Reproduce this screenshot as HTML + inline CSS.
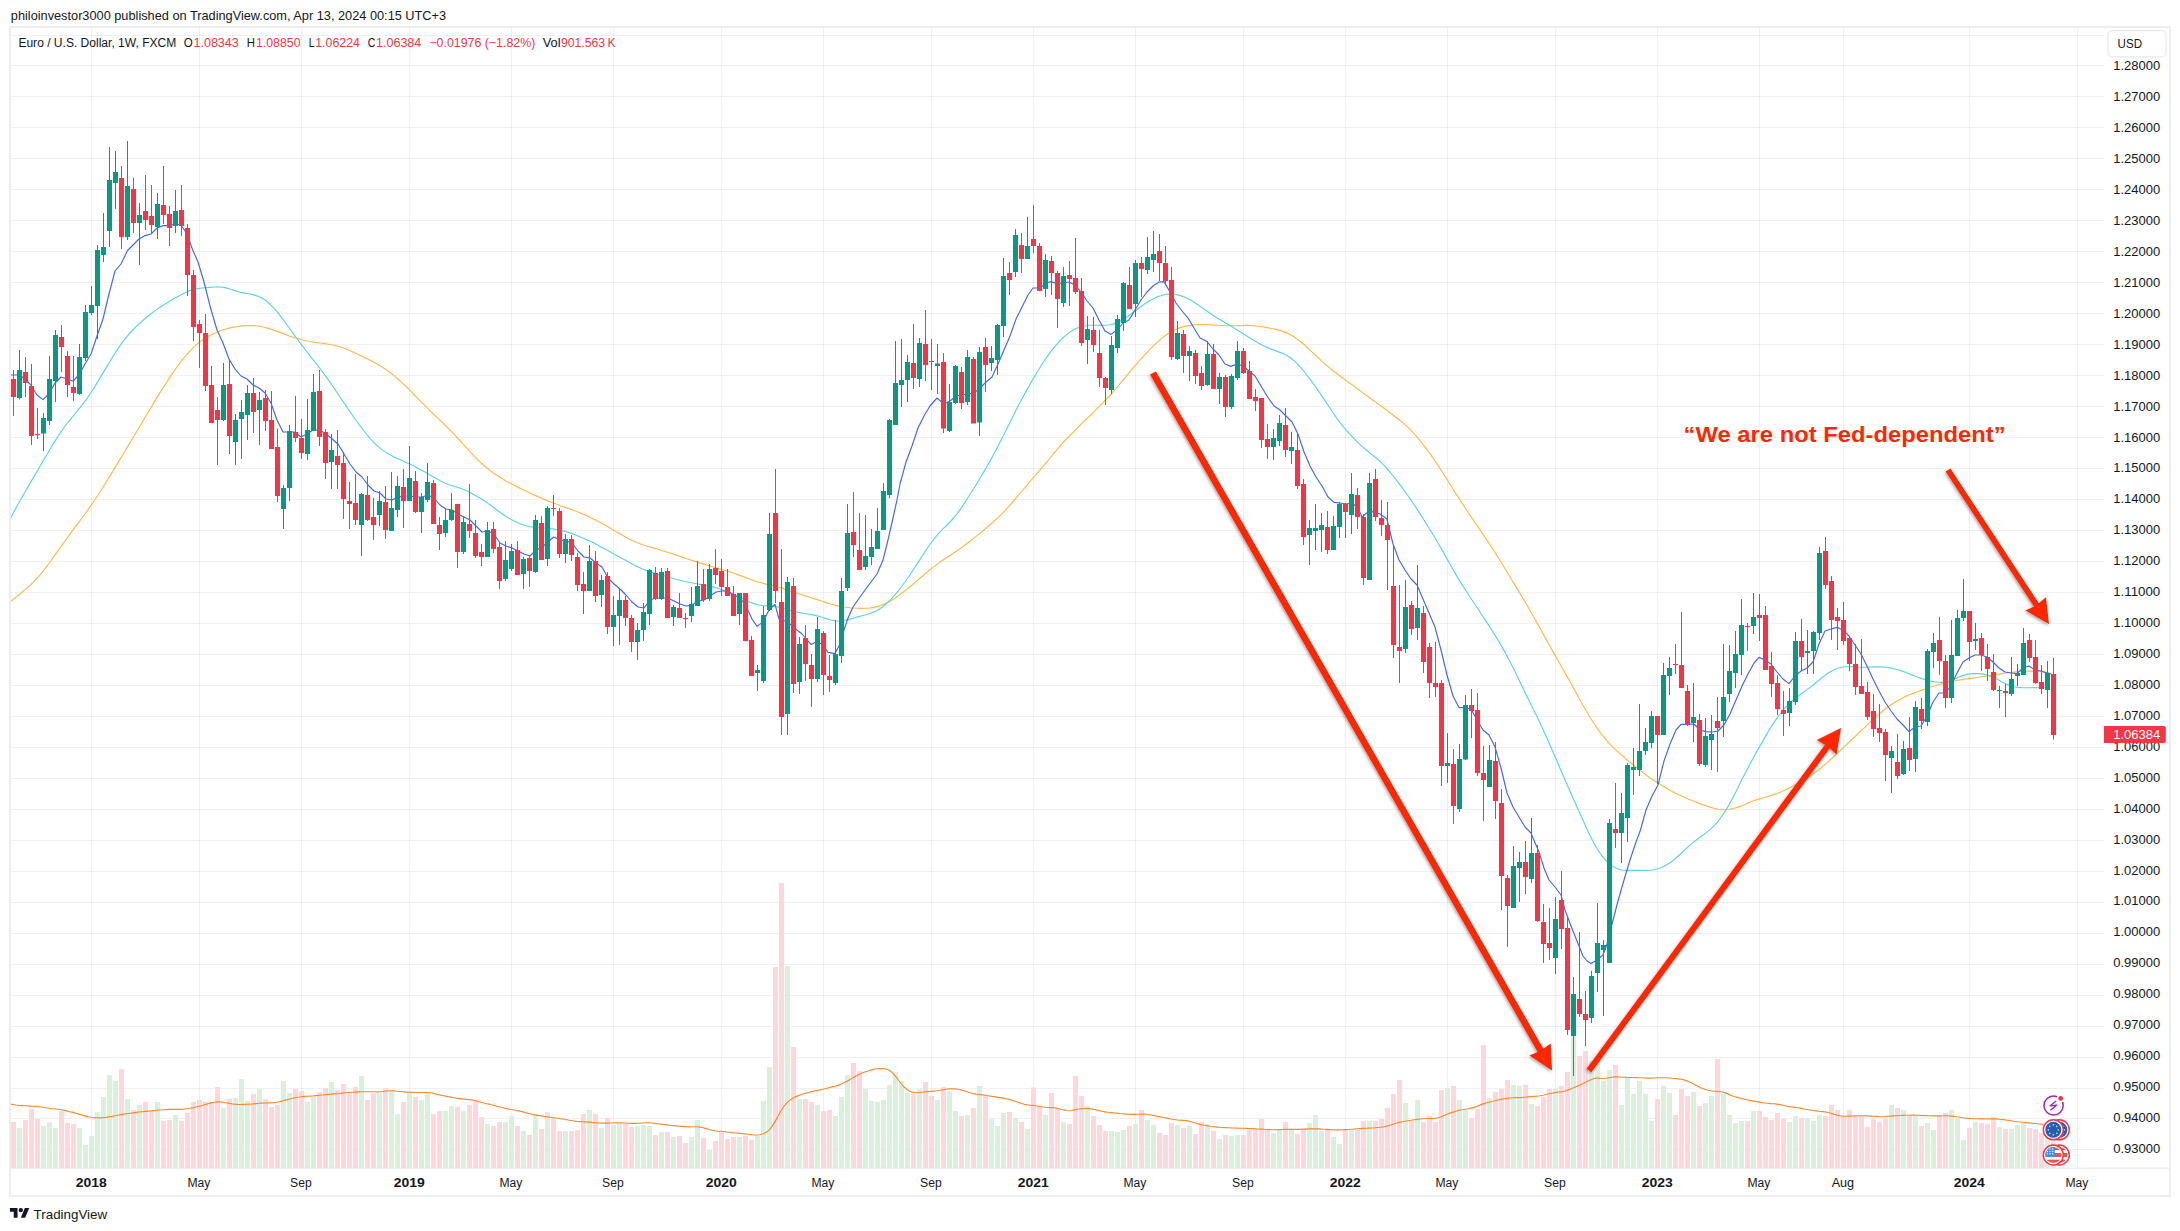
<!DOCTYPE html>
<html lang="en"><head><meta charset="utf-8"><title>EURUSD chart</title><style>html,body{margin:0;padding:0;background:#fff}body{width:2180px;height:1231px;overflow:hidden}svg{display:block}</style></head><body>
<svg width="2180" height="1231" viewBox="0 0 2180 1231" font-family='"Liberation Sans", Arial, Helvetica, sans-serif'>
<defs><filter id="sh" x="-5%" y="-5%" width="110%" height="110%"><feDropShadow dx="-1" dy="1.5" stdDeviation="1.6" flood-color="#000" flood-opacity="0.35"/></filter><clipPath id="pane"><rect x="11" y="28" width="2093" height="1140"/></clipPath><clipPath id="c1"><circle cx="0" cy="0" r="8"/></clipPath></defs>
<rect width="2180" height="1231" fill="#fff"/>
<rect x="10" y="27" width="2160" height="1169" fill="none" stroke="#eceef4" stroke-width="2"/>
<path d="M11 35.5H2104M11 65.5H2104M11 96.5H2104M11 127.5H2104M11 158.5H2104M11 189.5H2104M11 220.5H2104M11 251.5H2104M11 282.5H2104M11 313.5H2104M11 344.5H2104M11 375.5H2104M11 406.5H2104M11 437.5H2104M11 468.5H2104M11 499.5H2104M11 530.5H2104M11 561.5H2104M11 592.5H2104M11 623.5H2104M11 654.5H2104M11 685.5H2104M11 716.5H2104M11 747.5H2104M11 778.5H2104M11 809.5H2104M11 840.5H2104M11 871.5H2104M11 902.5H2104M11 933.5H2104M11 964.5H2104M11 995.5H2104M11 1026.5H2104M11 1057.5H2104M11 1088.5H2104M11 1118.5H2104M11 1149.5H2104M91.5 28V1168M199.5 28V1168M301.5 28V1168M409.5 28V1168M511.5 28V1168M613.5 28V1168M721.5 28V1168M823.5 28V1168M931.5 28V1168M1033.5 28V1168M1135.5 28V1168M1243.5 28V1168M1345.5 28V1168M1447.5 28V1168M1555.5 28V1168M1657.5 28V1168M1759.5 28V1168M1843.5 28V1168M1969.5 28V1168M2077.5 28V1168" stroke="#000" stroke-opacity="0.058" stroke-width="1" fill="none"/>
<path d="M11 1168.3H2169" stroke="#eceef4" stroke-width="1.4" fill="none"/>
<g clip-path="url(#pane)">
<path d="M11 1122h5V1168h-5zM23 1120h5V1168h-5zM29 1109h5V1168h-5zM35 1119h5V1168h-5zM59 1111h5V1168h-5zM65 1123h5V1168h-5zM71 1124h5V1168h-5zM119 1069h5V1168h-5zM131 1110h5V1168h-5zM143 1102h5V1168h-5zM149 1111h5V1168h-5zM161 1121h5V1168h-5zM167 1120h5V1168h-5zM179 1121h5V1168h-5zM185 1113h5V1168h-5zM191 1102h5V1168h-5zM197 1100h5V1168h-5zM203 1102h5V1168h-5zM209 1102h5V1168h-5zM215 1087h5V1168h-5zM227 1099h5V1168h-5zM251 1094h5V1168h-5zM263 1099h5V1168h-5zM269 1107h5V1168h-5zM275 1105h5V1168h-5zM293 1089h5V1168h-5zM299 1091h5V1168h-5zM317 1092h5V1168h-5zM323 1088h5V1168h-5zM335 1090h5V1168h-5zM341 1084h5V1168h-5zM347 1094h5V1168h-5zM353 1087h5V1168h-5zM365 1100h5V1168h-5zM371 1093h5V1168h-5zM383 1088h5V1168h-5zM401 1102h5V1168h-5zM413 1097h5V1168h-5zM431 1114h5V1168h-5zM437 1111h5V1168h-5zM455 1107h5V1168h-5zM467 1105h5V1168h-5zM473 1102h5V1168h-5zM479 1117h5V1168h-5zM491 1126h5V1168h-5zM497 1122h5V1168h-5zM515 1126h5V1168h-5zM527 1135h5V1168h-5zM539 1129h5V1168h-5zM551 1119h5V1168h-5zM557 1131h5V1168h-5zM569 1131h5V1168h-5zM575 1130h5V1168h-5zM581 1114h5V1168h-5zM593 1114h5V1168h-5zM605 1118h5V1168h-5zM623 1124h5V1168h-5zM629 1127h5V1168h-5zM653 1135h5V1168h-5zM665 1132h5V1168h-5zM677 1136h5V1168h-5zM683 1143h5V1168h-5zM701 1138h5V1168h-5zM713 1141h5V1168h-5zM719 1131h5V1168h-5zM725 1139h5V1168h-5zM731 1137h5V1168h-5zM743 1136h5V1168h-5zM749 1140h5V1168h-5zM773 967h5V1168h-5zM779 883h5V1168h-5zM791 1047h5V1168h-5zM803 1099h5V1168h-5zM809 1102h5V1168h-5zM821 1111h5V1168h-5zM827 1110h5V1168h-5zM851 1063h5V1168h-5zM857 1071h5V1168h-5zM911 1094h5V1168h-5zM923 1082h5V1168h-5zM929 1096h5V1168h-5zM941 1087h5V1168h-5zM959 1116h5V1168h-5zM971 1108h5V1168h-5zM983 1096h5V1168h-5zM1007 1112h5V1168h-5zM1019 1122h5V1168h-5zM1031 1087.6h5V1168h-5zM1037 1106h5V1168h-5zM1049 1093h5V1168h-5zM1055 1108h5V1168h-5zM1067 1124h5V1168h-5zM1073 1076h5V1168h-5zM1079 1096h5V1168h-5zM1091 1116h5V1168h-5zM1097 1125h5V1168h-5zM1103 1131h5V1168h-5zM1127 1126h5V1168h-5zM1139 1110h5V1168h-5zM1157 1133h5V1168h-5zM1163 1135h5V1168h-5zM1169 1123h5V1168h-5zM1181 1128h5V1168h-5zM1193 1134h5V1168h-5zM1199 1122h5V1168h-5zM1211 1131h5V1168h-5zM1223 1135h5V1168h-5zM1241 1135h5V1168h-5zM1247 1130h5V1168h-5zM1253 1129h5V1168h-5zM1259 1119h5V1168h-5zM1265 1129h5V1168h-5zM1283 1122h5V1168h-5zM1295 1134h5V1168h-5zM1301 1128h5V1168h-5zM1325 1130h5V1168h-5zM1343 1130h5V1168h-5zM1355 1130h5V1168h-5zM1361 1121h5V1168h-5zM1373 1121h5V1168h-5zM1379 1119h5V1168h-5zM1385 1108h5V1168h-5zM1391 1094h5V1168h-5zM1397 1080h5V1168h-5zM1409 1121h5V1168h-5zM1421 1122h5V1168h-5zM1427 1116h5V1168h-5zM1433 1122h5V1168h-5zM1439 1090h5V1168h-5zM1451 1086h5V1168h-5zM1469 1118h5V1168h-5zM1475 1109h5V1168h-5zM1481 1045h5V1168h-5zM1493 1092h5V1168h-5zM1499 1089h5V1168h-5zM1505 1080h5V1168h-5zM1523 1085h5V1168h-5zM1535 1106h5V1168h-5zM1541 1097h5V1168h-5zM1547 1089h5V1168h-5zM1559 1086h5V1168h-5zM1565 1072h5V1168h-5zM1577 1056h5V1168h-5zM1583 1051h5V1168h-5zM1613 1065h5V1168h-5zM1655 1099h5V1168h-5zM1673 1115h5V1168h-5zM1679 1089h5V1168h-5zM1685 1096h5V1168h-5zM1697 1106h5V1168h-5zM1715 1059h5V1168h-5zM1745 1121h5V1168h-5zM1757 1111h5V1168h-5zM1763 1117h5V1168h-5zM1769 1120h5V1168h-5zM1775 1113h5V1168h-5zM1781 1119h5V1168h-5zM1799 1118h5V1168h-5zM1823 1116h5V1168h-5zM1829 1105h5V1168h-5zM1835 1110h5V1168h-5zM1841 1116h5V1168h-5zM1847 1110h5V1168h-5zM1853 1116h5V1168h-5zM1859 1116h5V1168h-5zM1865 1127h5V1168h-5zM1871 1119h5V1168h-5zM1877 1122h5V1168h-5zM1883 1118h5V1168h-5zM1895 1108h5V1168h-5zM1907 1116h5V1168h-5zM1919 1126h5V1168h-5zM1937 1116h5V1168h-5zM1943 1113h5V1168h-5zM1967 1128h5V1168h-5zM1979 1123h5V1168h-5zM1985 1124h5V1168h-5zM1991 1117h5V1168h-5zM2003 1129h5V1168h-5zM2027 1128h5V1168h-5zM2033 1129h5V1168h-5zM2039 1133h5V1168h-5zM2051 1142h5V1168h-5z" fill="#fcd8dc"/>
<path d="M17 1128h5V1168h-5zM41 1126h5V1168h-5zM47 1122h5V1168h-5zM53 1128h5V1168h-5zM77 1128h5V1168h-5zM83 1145h5V1168h-5zM89 1136h5V1168h-5zM95 1112h5V1168h-5zM101 1097h5V1168h-5zM107 1075h5V1168h-5zM113 1081h5V1168h-5zM125 1099h5V1168h-5zM137 1105h5V1168h-5zM155 1102h5V1168h-5zM173 1115h5V1168h-5zM221 1108h5V1168h-5zM233 1098h5V1168h-5zM239 1079h5V1168h-5zM245 1101h5V1168h-5zM257 1089h5V1168h-5zM281 1081h5V1168h-5zM287 1093h5V1168h-5zM305 1102h5V1168h-5zM311 1097h5V1168h-5zM329 1082h5V1168h-5zM359 1076h5V1168h-5zM377 1093h5V1168h-5zM389 1090h5V1168h-5zM395 1114h5V1168h-5zM407 1092h5V1168h-5zM419 1100h5V1168h-5zM425 1093h5V1168h-5zM443 1111h5V1168h-5zM449 1106h5V1168h-5zM461 1111h5V1168h-5zM485 1124h5V1168h-5zM503 1122h5V1168h-5zM509 1116h5V1168h-5zM521 1131h5V1168h-5zM533 1114h5V1168h-5zM545 1112h5V1168h-5zM563 1131h5V1168h-5zM587 1110h5V1168h-5zM599 1128h5V1168h-5zM611 1125h5V1168h-5zM617 1124h5V1168h-5zM635 1126h5V1168h-5zM641 1125h5V1168h-5zM647 1126h5V1168h-5zM659 1132h5V1168h-5zM671 1137h5V1168h-5zM689 1137h5V1168h-5zM695 1120h5V1168h-5zM707 1150h5V1168h-5zM737 1137h5V1168h-5zM755 1136h5V1168h-5zM761 1101h5V1168h-5zM767 1067h5V1168h-5zM785 966h5V1168h-5zM797 1099h5V1168h-5zM815 1105h5V1168h-5zM833 1116h5V1168h-5zM839 1097h5V1168h-5zM845 1075h5V1168h-5zM863 1089h5V1168h-5zM869 1101h5V1168h-5zM875 1102h5V1168h-5zM881 1100h5V1168h-5zM887 1085h5V1168h-5zM893 1072h5V1168h-5zM899 1081h5V1168h-5zM905 1093h5V1168h-5zM917 1089h5V1168h-5zM935 1100h5V1168h-5zM947 1091h5V1168h-5zM953 1111h5V1168h-5zM965 1115h5V1168h-5zM977 1086h5V1168h-5zM989 1119h5V1168h-5zM995 1126h5V1168h-5zM1001 1113h5V1168h-5zM1013 1118h5V1168h-5zM1025 1129h5V1168h-5zM1043 1115h5V1168h-5zM1061 1122h5V1168h-5zM1085 1106h5V1168h-5zM1109 1131h5V1168h-5zM1115 1132h5V1168h-5zM1121 1130h5V1168h-5zM1133 1124h5V1168h-5zM1145 1120h5V1168h-5zM1151 1125h5V1168h-5zM1175 1125h5V1168h-5zM1187 1126h5V1168h-5zM1205 1124h5V1168h-5zM1217 1139h5V1168h-5zM1229 1136h5V1168h-5zM1235 1135h5V1168h-5zM1271 1133h5V1168h-5zM1277 1130h5V1168h-5zM1289 1130h5V1168h-5zM1307 1123h5V1168h-5zM1313 1115h5V1168h-5zM1319 1131h5V1168h-5zM1331 1137h5V1168h-5zM1337 1144h5V1168h-5zM1349 1130h5V1168h-5zM1367 1121h5V1168h-5zM1403 1103h5V1168h-5zM1415 1100h5V1168h-5zM1445 1088h5V1168h-5zM1457 1100h5V1168h-5zM1463 1110h5V1168h-5zM1487 1098h5V1168h-5zM1511 1085h5V1168h-5zM1517 1086h5V1168h-5zM1529 1104h5V1168h-5zM1553 1089h5V1168h-5zM1571 1036h5V1168h-5zM1589 1061h5V1168h-5zM1595 1062h5V1168h-5zM1601 1081h5V1168h-5zM1607 1070h5V1168h-5zM1619 1105h5V1168h-5zM1625 1078h5V1168h-5zM1631 1094h5V1168h-5zM1637 1081h5V1168h-5zM1643 1094h5V1168h-5zM1649 1121h5V1168h-5zM1661 1086h5V1168h-5zM1667 1093h5V1168h-5zM1691 1092h5V1168h-5zM1703 1103h5V1168h-5zM1709 1096h5V1168h-5zM1721 1094h5V1168h-5zM1727 1115h5V1168h-5zM1733 1123h5V1168h-5zM1739 1121h5V1168h-5zM1751 1111h5V1168h-5zM1787 1122h5V1168h-5zM1793 1116h5V1168h-5zM1805 1118h5V1168h-5zM1811 1121h5V1168h-5zM1817 1115h5V1168h-5zM1889 1105h5V1168h-5zM1901 1110h5V1168h-5zM1913 1116h5V1168h-5zM1925 1123h5V1168h-5zM1931 1130h5V1168h-5zM1949 1110h5V1168h-5zM1955 1118h5V1168h-5zM1961 1140h5V1168h-5zM1973 1122h5V1168h-5zM1997 1127h5V1168h-5zM2009 1129h5V1168h-5zM2015 1125h5V1168h-5zM2021 1123h5V1168h-5zM2045 1138h5V1168h-5z" fill="#dbefdd"/>
<path d="M10 1104 13 1104.5 16 1105 19 1105.4 22 1105.6 25 1105.8 28 1105.9 31 1106.1 34 1106.2 37 1106.4 40 1106.7 43 1107.2 46 1107.8 49 1108.3 52 1108.7 55 1109 58 1109.3 61 1109.7 64 1110.3 67 1110.9 70 1111.7 73 1112.4 76 1113.3 79 1114.1 82 1115 85 1115.9 88 1116.7 91 1117.3 94 1117.7 97 1117.8 100 1117.9 103 1117.7 106 1117.4 109 1116.9 112 1116.4 115 1115.8 118 1115.2 121 1114.6 124 1114.1 127 1113.7 130 1113.3 133 1112.9 136 1112.4 139 1112 142 1111.7 145 1111.4 148 1111.1 151 1110.9 154 1110.6 157 1110.3 160 1110 163 1109.8 166 1109.6 169 1109.4 172 1109.3 175 1109.3 178 1109.3 181 1109.3 184 1109.1 187 1108.7 190 1108.2 193 1107.7 196 1107 199 1106.3 202 1105.5 205 1104.6 208 1103.7 211 1102.9 214 1102.2 217 1101.9 220 1101.9 223 1102.3 226 1102.8 229 1103.4 232 1103.9 235 1104.2 238 1104.4 241 1104.5 244 1104.4 247 1104.3 250 1104.1 253 1103.9 256 1103.6 259 1103.3 262 1103.1 265 1103 268 1102.9 271 1102.9 274 1102.7 277 1102.3 280 1101.6 283 1100.7 286 1099.9 289 1099.2 292 1098.5 295 1097.8 298 1097.2 301 1096.7 304 1096.4 307 1096.2 310 1096.1 313 1095.9 316 1095.6 319 1095.3 322 1095 325 1094.7 328 1094.4 331 1094.1 334 1093.9 337 1093.8 340 1093.5 343 1093.1 346 1092.7 349 1092.4 352 1092.2 355 1092 358 1091.9 361 1091.8 364 1091.7 367 1091.7 370 1091.7 373 1091.7 376 1091.8 379 1091.8 382 1091.6 385 1091.3 388 1090.8 391 1090.7 394 1090.8 397 1091.2 400 1091.5 403 1091.8 406 1092.1 409 1092.3 412 1092.4 415 1092.5 418 1092.5 421 1092.5 424 1092.5 427 1092.5 430 1092.8 433 1093.3 436 1094.1 439 1094.7 442 1095.4 445 1096 448 1096.6 451 1097.1 454 1097.7 457 1098.2 460 1098.6 463 1099 466 1099.4 469 1099.6 472 1100 475 1100.6 478 1101.4 481 1102.2 484 1103 487 1103.8 490 1104.5 493 1105.2 496 1106 499 1106.8 502 1107.5 505 1108.2 508 1108.9 511 1109.5 514 1110 517 1110.5 520 1111.1 523 1111.9 526 1112.7 529 1113.6 532 1114.3 535 1114.9 538 1115.4 541 1115.9 544 1116.4 547 1116.8 550 1117.2 553 1117.6 556 1118 559 1118.5 562 1119 565 1119.5 568 1120 571 1120.5 574 1121 577 1121.4 580 1121.6 583 1121.8 586 1121.9 589 1122.1 592 1122.4 595 1122.7 598 1123 601 1123.1 604 1123.1 607 1123.1 610 1123 613 1123 616 1122.9 619 1122.9 622 1122.9 625 1123 628 1123.2 631 1123.3 634 1123.3 637 1123.3 640 1123.2 643 1123 646 1122.8 649 1122.7 652 1123 655 1123.4 658 1123.8 661 1124.1 664 1124.5 667 1124.9 670 1125.3 673 1125.6 676 1125.9 679 1126.2 682 1126.4 685 1126.6 688 1126.8 691 1126.8 694 1126.7 697 1126.7 700 1127.1 703 1127.8 706 1128.6 709 1129.5 712 1130.3 715 1130.8 718 1131.1 721 1131.3 724 1131.5 727 1132 730 1132.4 733 1132.7 736 1133 739 1133.3 742 1133.6 745 1133.9 748 1134.2 751 1134.6 754 1135 757 1135 760 1134.7 763 1133.7 766 1132.5 769 1130.1 772 1126.6 775 1121.6 778 1116.2 781 1110.7 784 1106.3 787 1102.6 790 1100.1 793 1098 796 1096.6 799 1095.4 802 1094.3 805 1093.4 808 1092.5 811 1091.7 814 1091.1 817 1090.5 820 1089.9 823 1089.3 826 1088.5 829 1087.7 832 1086.9 835 1086.2 838 1085.4 841 1084.3 844 1082.8 847 1081.2 850 1079.5 853 1077.8 856 1076 859 1074.4 862 1073 865 1072 868 1071 871 1070.1 874 1069.3 877 1068.8 880 1068.5 883 1068.6 886 1069 889 1070.3 892 1072.3 895 1075.6 898 1079.5 901 1083.5 904 1087 907 1089.5 910 1091.5 913 1092.4 916 1092.7 919 1092.5 922 1092.2 925 1091.9 928 1091.6 931 1091.4 934 1091.1 937 1090.8 940 1090.3 943 1089.8 946 1089.3 949 1088.9 952 1088.7 955 1088.9 958 1089.3 961 1089.9 964 1090.8 967 1091.8 970 1092.8 973 1093.6 976 1094.1 979 1094.5 982 1094.9 985 1095.3 988 1095.7 991 1096.2 994 1096.6 997 1097.1 1000 1097.6 1003 1098.1 1006 1098.7 1009 1099.4 1012 1100.3 1015 1101.3 1018 1102.3 1021 1103.3 1024 1104.2 1027 1104.9 1030 1105.2 1033 1105.4 1036 1105.7 1039 1106.2 1042 1106.8 1045 1107.3 1048 1107.5 1051 1107.6 1054 1107.8 1057 1108.3 1060 1109 1063 1109.7 1066 1110.5 1069 1110.8 1072 1110.5 1075 1109.8 1078 1109.2 1081 1108.8 1084 1108.5 1087 1108.5 1090 1108.6 1093 1109.1 1096 1109.8 1099 1110.6 1102 1111.3 1105 1111.9 1108 1112.3 1111 1112.6 1114 1112.9 1117 1113.1 1120 1113.5 1123 1113.8 1126 1114.1 1129 1114.3 1132 1114.4 1135 1114.4 1138 1114.3 1141 1114.2 1144 1114 1147 1114.2 1150 1114.7 1153 1115.4 1156 1116 1159 1116.6 1162 1117.2 1165 1117.8 1168 1118.4 1171 1119 1174 1119.5 1177 1120 1180 1120.2 1183 1120.4 1186 1120.6 1189 1121.1 1192 1122 1195 1123 1198 1123.9 1201 1124.6 1204 1125.2 1207 1125.7 1210 1126.2 1213 1126.6 1216 1126.9 1219 1127.2 1222 1127.5 1225 1127.6 1228 1127.7 1231 1127.9 1234 1128 1237 1128.1 1240 1128.2 1243 1128.3 1246 1128.4 1249 1128.5 1252 1128.6 1255 1128.8 1258 1129 1261 1129.1 1264 1129.3 1267 1129.5 1270 1129.6 1273 1129.7 1276 1129.7 1279 1129.6 1282 1129.5 1285 1129.4 1288 1129.4 1291 1129.4 1294 1129.4 1297 1129.4 1300 1129.4 1303 1129.3 1306 1129.1 1309 1128.9 1312 1128.8 1315 1128.8 1318 1128.9 1321 1129.1 1324 1129.3 1327 1129.4 1330 1129.6 1333 1129.8 1336 1129.9 1339 1129.9 1342 1129.8 1345 1129.6 1348 1129.5 1351 1129.3 1354 1129.1 1357 1128.8 1360 1128.6 1363 1128.4 1366 1128.3 1369 1128.1 1372 1128 1375 1127.8 1378 1127.5 1381 1127.2 1384 1126.8 1387 1126.1 1390 1125.2 1393 1124.3 1396 1123.3 1399 1122.4 1402 1121.7 1405 1121.2 1408 1120.7 1411 1120.3 1414 1119.8 1417 1119.4 1420 1119 1423 1118.7 1426 1118.5 1429 1118.5 1432 1118.6 1435 1118.4 1438 1117.7 1441 1116.7 1444 1115.5 1447 1114.3 1450 1113.1 1453 1112.1 1456 1111.2 1459 1110.4 1462 1109.7 1465 1109.2 1468 1108.7 1471 1108.1 1474 1107.4 1477 1106.3 1480 1105.1 1483 1103.9 1486 1103 1489 1102.2 1492 1101.5 1495 1100.8 1498 1100 1501 1099.4 1504 1098.8 1507 1098.4 1510 1098 1513 1097.8 1516 1097.6 1519 1097.6 1522 1097.5 1525 1097.2 1528 1096.9 1531 1096.6 1534 1096.4 1537 1096.2 1540 1095.8 1543 1095.2 1546 1094.5 1549 1093.8 1552 1093.2 1555 1092.6 1558 1092.1 1561 1091.7 1564 1091.2 1567 1090.4 1570 1089.3 1573 1088 1576 1086.7 1579 1085.3 1582 1084 1585 1082.5 1588 1081 1591 1079.7 1594 1078.5 1597 1078 1600 1078.2 1603 1078.5 1606 1078.3 1609 1077.7 1612 1077.2 1615 1076.9 1618 1076.8 1621 1077 1624 1077.2 1627 1077.4 1630 1077.5 1633 1077.5 1636 1077.6 1639 1077.7 1642 1077.8 1645 1078 1648 1078.1 1651 1078.1 1654 1078 1657 1077.8 1660 1077.7 1663 1077.7 1666 1077.8 1669 1078 1672 1078.3 1675 1078.5 1678 1078.9 1681 1079.2 1684 1079.9 1687 1080.9 1690 1082.2 1693 1083.7 1696 1085.3 1699 1086.8 1702 1088.2 1705 1089.3 1708 1090.2 1711 1090.8 1714 1091.1 1717 1091.2 1720 1091.5 1723 1092.1 1726 1093.1 1729 1094.4 1732 1095.7 1735 1096.7 1738 1097.6 1741 1098.3 1744 1099.1 1747 1099.8 1750 1100.4 1753 1101 1756 1101.6 1759 1102.1 1762 1102.6 1765 1103 1768 1103.3 1771 1103.6 1774 1103.8 1777 1104.1 1780 1104.6 1783 1105.3 1786 1106 1789 1106.6 1792 1107 1795 1107.4 1798 1107.8 1801 1108.4 1804 1109 1807 1109.5 1810 1110 1813 1110.5 1816 1110.9 1819 1111.3 1822 1111.6 1825 1111.9 1828 1112.5 1831 1113.2 1834 1114.2 1837 1115.1 1840 1115.8 1843 1116.2 1846 1116.3 1849 1116.1 1852 1116 1855 1115.9 1858 1115.8 1861 1115.7 1864 1115.8 1867 1115.9 1870 1116.1 1873 1116.3 1876 1116.4 1879 1116.6 1882 1116.7 1885 1116.6 1888 1116.3 1891 1116.1 1894 1115.9 1897 1115.7 1900 1115.5 1903 1115.4 1906 1115.3 1909 1115.2 1912 1115.1 1915 1115.1 1918 1115.2 1921 1115.4 1924 1115.5 1927 1115.6 1930 1115.8 1933 1115.9 1936 1115.9 1939 1115.9 1942 1115.8 1945 1115.7 1948 1115.8 1951 1116.1 1954 1116.4 1957 1116.8 1960 1117.2 1963 1117.7 1966 1118.1 1969 1118.4 1972 1118.6 1975 1118.7 1978 1118.8 1981 1118.8 1984 1118.8 1987 1118.8 1990 1118.8 1993 1118.8 1996 1118.9 1999 1119.2 2002 1119.5 2005 1119.9 2008 1120.3 2011 1120.8 2014 1121.3 2017 1121.7 2020 1122 2023 1122.3 2026 1122.6 2029 1122.9 2032 1123.2 2035 1123.5 2038 1123.8 2041 1124.1 2043 1124.4" fill="none" stroke="#f6892a" stroke-width="1.15" stroke-linejoin="round" stroke-linecap="round"/>
<path d="M10 602 14 598.6 18 595.5 22 592.3 26 588.9 30 585.3 34 581.4 38 577.2 42 572.6 46 567.4 50 562 54 556.4 58 550.8 62 545.2 66 539.5 70 534.1 74 528.7 78 523.3 82 518 86 512.5 90 506.9 94 501 98 495 102 488.8 106 482.4 110 475.9 114 469.3 118 462.6 122 456 126 449.3 130 442.7 134 436 138 429.3 142 422.6 146 415.8 150 409.1 154 402.4 158 395.9 162 389.5 166 383.2 170 377.1 174 371.2 178 365.5 182 360.2 186 355.3 190 350.8 194 346.9 198 343.4 202 340.4 206 337.8 210 335.5 214 333.5 218 331.8 222 330.3 226 329 230 327.9 234 327.1 238 326.5 242 325.9 246 325.6 250 325.5 254 325.6 258 326 262 326.7 266 327.7 270 328.9 274 330.2 278 331.6 282 333.1 286 334.7 290 336.2 294 337.5 298 338.6 302 339.7 306 340.7 310 341.5 314 342.1 318 342.7 322 343.3 326 343.9 330 344.5 334 345.3 338 346.3 342 347.5 346 349 350 350.7 354 352.5 358 354.4 362 356.3 366 358.3 370 360.3 374 362.4 378 364.6 382 367 386 369.6 390 372.5 394 375.6 398 379 402 382.6 406 386.4 410 390.4 414 394.5 418 398.6 422 402.6 426 406.6 430 410.6 434 414.5 438 418.3 442 422.2 446 426 450 430.1 454 434.2 458 438.5 462 442.9 466 447.3 470 451.6 474 455.9 478 460 482 463.8 486 467.3 490 470.5 494 473.4 498 476 502 478.5 506 480.9 510 483.1 514 485.2 518 487.2 522 489.2 526 491.1 530 493 534 494.9 538 496.6 542 498.4 546 500.1 550 501.7 554 503.3 558 504.8 562 506.2 566 507.6 570 509 574 510.5 578 512 582 513.7 586 515.4 590 517.2 594 519.2 598 521.3 602 523.5 606 525.7 610 528 614 530.4 618 532.8 622 535.1 626 537.3 630 539.4 634 541.3 638 543 642 544.5 646 545.8 650 547 654 548.1 658 549.3 662 550.5 666 551.7 670 553 674 554.4 678 555.8 682 557.1 686 558.5 690 559.8 694 561.1 698 562.4 702 563.6 706 564.8 710 566 714 567.2 718 568.4 722 569.6 726 570.7 730 571.9 734 573.2 738 574.6 742 576.1 746 577.6 750 579.3 754 580.7 758 582 762 583 766 584.1 770 585.1 774 586.1 778 587 782 588.1 786 589.5 790 590.9 794 592.2 798 593.5 802 594.8 806 596 810 597.3 814 598.6 818 599.9 822 601.3 826 602.6 830 603.8 834 604.9 838 605.9 842 606.7 846 607.3 850 607.7 854 608 858 608.3 862 608.4 866 608.3 870 608 874 607.4 878 606.4 882 605 886 603.3 890 601.2 894 598.7 898 596 902 593 906 589.9 910 586.7 914 583.3 918 579.9 922 576.5 926 573.1 930 569.8 934 566.6 938 563.6 942 560.8 946 558 950 555.4 954 552.8 958 550.1 962 547.3 966 544.3 970 541.3 974 538.1 978 534.9 982 531.6 986 528.3 990 524.8 994 521.2 998 517.6 1002 513.8 1006 509.7 1010 505.1 1014 500.5 1018 495.7 1022 491 1026 486.3 1030 481.5 1034 476.8 1038 472.3 1042 467.6 1046 462.9 1050 458 1054 453.1 1058 448.4 1062 443.8 1066 439.5 1070 435.4 1074 431.3 1078 427.3 1082 423.4 1086 419.5 1090 415.6 1094 411.6 1098 407.7 1102 403.6 1106 399.5 1110 395.3 1114 390.7 1118 386 1122 381.3 1126 376.4 1130 371.7 1134 366.9 1138 362.3 1142 357.9 1146 353.6 1150 349.4 1154 345.4 1158 341.6 1162 338.1 1166 335.1 1170 332.5 1174 330.3 1178 328.4 1182 327.1 1186 326.1 1190 325.4 1194 324.9 1198 324.6 1202 324.5 1206 324.6 1210 324.8 1214 325 1218 325.3 1222 325.5 1226 325.7 1230 325.7 1234 325.7 1238 325.6 1242 325.5 1246 325.4 1250 325.5 1254 325.8 1258 326.2 1262 326.7 1266 327.4 1270 328.2 1274 329 1278 329.9 1282 331.1 1286 332.6 1290 334.5 1294 336.8 1298 339.6 1302 342.8 1306 346.3 1310 350.1 1314 353.9 1318 357.7 1322 361.4 1326 364.9 1330 368.3 1334 371.5 1338 374.5 1342 377.5 1346 380.4 1350 383.3 1354 386.3 1358 389.2 1362 392.1 1366 395.1 1370 398 1374 400.9 1378 403.9 1382 406.8 1386 409.7 1390 412.7 1394 415.7 1398 418.8 1402 422.1 1406 425.6 1410 429.4 1414 433.6 1418 438.1 1422 443 1426 448.3 1430 453.7 1434 459.5 1438 465.4 1442 471.5 1446 477.9 1450 484.3 1454 490.6 1458 496.9 1462 503.1 1466 509.2 1470 515.2 1474 521.1 1478 526.8 1482 532.7 1486 538.6 1490 544.7 1494 550.9 1498 557.2 1502 563.7 1506 570.3 1510 577 1514 583.6 1518 590.1 1522 596.7 1526 603.5 1530 610.5 1534 617.5 1538 624.6 1542 631.8 1546 639.1 1550 646.3 1554 653.4 1558 660.5 1562 667.5 1566 674.6 1570 681.7 1574 689 1578 696.3 1582 703.5 1586 710.5 1590 717.2 1594 723.5 1598 729.4 1602 734.8 1606 739.7 1610 744.1 1614 748.1 1618 751.8 1622 755.4 1626 758.9 1630 762.3 1634 765.5 1638 768.7 1642 771.9 1646 775 1650 777.9 1654 780.6 1658 783.1 1662 785.5 1666 787.9 1670 790.2 1674 792.4 1678 794.4 1682 796.3 1686 798 1690 799.7 1694 801.3 1698 802.9 1702 804.4 1706 805.8 1710 807.1 1714 808.3 1718 809.2 1722 809.7 1726 809.6 1730 809.2 1734 808.3 1738 807.1 1742 805.7 1746 803.9 1750 802.3 1754 800.7 1758 799.4 1762 798.2 1766 797 1770 795.8 1774 794.6 1778 793.2 1782 791.5 1786 789.6 1790 787.6 1794 785.5 1798 783.4 1802 781.2 1806 778.8 1810 776.2 1814 773.3 1818 770.3 1822 767 1826 763.6 1830 760 1834 756.3 1838 752.5 1842 748.8 1846 745.1 1850 741.3 1854 737.5 1858 733.6 1862 729.8 1866 726.1 1870 722.3 1874 718.7 1878 715.1 1882 711.7 1886 708.5 1890 705.5 1894 702.8 1898 700.3 1902 698.2 1906 696.3 1910 694.5 1914 693 1918 691.5 1922 690.1 1926 688.7 1930 687.3 1934 686 1938 684.8 1942 683.7 1946 682.7 1950 681.8 1954 681 1958 680.2 1962 679.6 1966 679 1970 678.4 1974 677.9 1978 677.3 1982 676.8 1986 676.1 1990 675.5 1994 674.8 1998 674.2 2002 673.6 2006 673 2010 672.5 2014 672.1 2018 671.6 2022 671.3 2026 671.1 2030 671.1 2034 671.2 2038 671.4 2042 671.8 2046 672.4 2050 673" fill="none" stroke="#fbb94a" stroke-width="1.15" stroke-linejoin="round" stroke-linecap="round"/>
<path d="M10 519.4 14 511.6 18 504.3 22 497.2 26 490.2 30 483.4 34 476.6 38 469.8 42 462.9 46 456.1 50 449.2 54 442.6 58 436.3 62 430.5 66 425 70 419.9 74 415 78 410.1 82 405.2 86 399.8 90 394 94 387.9 98 381.4 102 374.6 106 367.9 110 361.2 114 354.8 118 348.7 122 342.9 126 337.6 130 333 134 328.7 138 324.8 142 321.2 146 317.8 150 314.5 154 311.4 158 308.6 162 306 166 303.4 170 301 174 298.6 178 296.4 182 294.2 186 292.2 190 290.6 194 289.4 198 288.5 202 288 206 287.7 210 287.4 214 287 218 286.9 222 287.2 226 287.9 230 289 234 290.4 238 291.7 242 292.6 246 293.4 250 294 254 294.9 258 296.3 262 298.1 266 300.8 270 304.2 274 308.3 278 312.9 282 318.1 286 323.5 290 329 294 334.6 298 340 302 345.4 306 350.7 310 355.8 314 360.8 318 365.9 322 371.1 326 376.6 330 382.2 334 388.1 338 394 342 400 346 405.9 350 411.8 354 417.5 358 423 362 428.4 366 433.5 370 438.3 374 442.6 378 446.4 382 449.6 386 452.4 390 454.8 394 456.9 398 458.8 402 460.6 406 462.4 410 464.2 414 466.1 418 468.2 422 470.4 426 472.6 430 475 434 477.3 438 479.6 442 481.7 446 483.5 450 485 454 486.2 458 487.5 462 488.8 466 490.5 470 492.4 474 494.7 478 496.9 482 499.3 486 501.9 490 504.7 494 507.7 498 510.7 502 513.7 506 516.4 510 518.8 514 520.9 518 522.8 522 524.5 526 525.8 530 526.7 534 527.3 538 527.7 542 527.9 546 528.2 550 528.6 554 529.1 558 529.8 562 530.6 566 531.6 570 532.9 574 534.4 578 536 582 537.7 586 539.5 590 541.2 594 543.1 598 545.2 602 547.4 606 549.6 610 551.8 614 554 618 556.2 622 558.4 626 560.6 630 562.8 634 564.9 638 566.9 642 568.8 646 570.4 650 571.7 654 572.9 658 574.1 662 575.2 666 576.3 670 577.5 674 578.7 678 579.8 682 580.8 686 581.7 690 582.5 694 583.3 698 584 702 584.6 706 585.3 710 586.1 714 587.1 718 588.3 722 589.7 726 591.3 730 593.1 734 595 738 596.8 742 598.6 746 600.4 750 602.2 754 603.6 758 604.8 762 605.5 766 605.7 770 605.9 774 606.3 778 607 782 608 786 609.3 790 610.4 794 611.4 798 612.3 802 613.1 806 613.7 810 614.3 814 615.1 818 616.1 822 617.2 826 618.6 830 619.8 834 620.7 838 621 842 620.7 846 620.1 850 619.1 854 618 858 616.9 862 615.8 866 614.7 870 613.5 874 611.9 878 609.9 882 607.3 886 604 890 600.2 894 595.9 898 591.1 902 586 906 580.5 910 574.8 914 568.8 918 562.6 922 556.4 926 550.2 930 544.3 934 539 938 534.2 942 529.8 946 526 950 522 954 517.5 958 512.6 962 506.9 966 500.8 970 494.5 974 488.2 978 481.5 982 474.9 986 468.1 990 461 994 453.7 998 446.1 1002 438.3 1006 430.4 1010 422.2 1014 414.2 1018 406.3 1022 398.7 1026 391.4 1030 384.2 1034 377.4 1038 370.7 1042 364.3 1046 358.3 1050 352.7 1054 347.6 1058 342.9 1062 338.7 1066 335.1 1070 332.1 1074 329.6 1078 327.8 1082 326.6 1086 325.8 1090 325.3 1094 325.2 1098 325.2 1102 325.4 1106 325.2 1110 324.8 1114 323.9 1118 322.3 1122 320.1 1126 317.6 1130 314.8 1134 311.8 1138 308.8 1142 305.8 1146 303 1150 300.5 1154 298.4 1158 296.6 1162 295.3 1166 294.4 1170 294 1174 294.2 1178 294.9 1182 296.1 1186 297.7 1190 299.8 1194 302.2 1198 304.8 1202 307.6 1206 310.5 1210 313.2 1214 315.9 1218 318.4 1222 320.8 1226 323.2 1230 325.5 1234 328 1238 330.5 1242 333 1246 335.5 1250 338 1254 340.4 1258 342.7 1262 344.9 1266 346.9 1270 348.6 1274 350.1 1278 351.6 1282 353.1 1286 355 1290 357.5 1294 360.7 1298 364.6 1302 369.1 1306 374 1310 379.2 1314 384.7 1318 390.4 1322 396.2 1326 402.1 1330 408.2 1334 414.3 1338 419.9 1342 425.2 1346 430 1350 434.4 1354 438.6 1358 442.6 1362 446.4 1366 449.8 1370 453.1 1374 456.2 1378 459.5 1382 463.2 1386 467.4 1390 472 1394 477 1398 482.2 1402 487.6 1406 493 1410 498.6 1414 504.5 1418 510.6 1422 516.8 1426 523.2 1430 529.7 1434 536.2 1438 543 1442 549.9 1446 557.1 1450 564.2 1454 571.3 1458 578.1 1462 584.6 1466 590.8 1470 597 1474 603 1478 609 1482 615 1486 621.1 1490 627.2 1494 633.6 1498 640.1 1502 646.9 1506 654.1 1510 661.7 1514 669.6 1518 677.8 1522 686.2 1526 694.4 1530 702.5 1534 710.6 1538 718.8 1542 727.2 1546 736 1550 745 1554 754.2 1558 763.6 1562 773 1566 782.2 1570 791.3 1574 800.3 1578 809.2 1582 818.1 1586 827 1590 835.5 1594 843.3 1598 850.2 1602 856 1606 860.6 1610 864.3 1614 867.1 1618 868.9 1622 870 1626 870.4 1630 870.4 1634 870.4 1638 870.4 1642 870.4 1646 870.4 1650 870.3 1654 869.7 1658 868.7 1662 867.2 1666 865.3 1670 862.8 1674 859.8 1678 856.2 1682 852.5 1686 848.7 1690 845.1 1694 841.7 1698 838.7 1702 835.8 1706 832.9 1710 829.6 1714 825.8 1718 821.3 1722 816 1726 809.9 1730 803 1734 795.6 1738 787.7 1742 779.3 1746 771.7 1750 764.1 1754 756.6 1758 749.4 1762 742.6 1766 735.4 1770 728.6 1774 722.4 1778 716.6 1782 711.5 1786 706.9 1790 702.9 1794 699.3 1798 696.2 1802 693.3 1806 690.4 1810 687.4 1814 684.3 1818 681 1822 677.7 1826 674.6 1830 671.9 1834 669.7 1838 668.2 1842 667.2 1846 666.8 1850 666.7 1854 666.9 1858 667.1 1862 667.2 1866 667.2 1870 667 1874 666.8 1878 666.8 1882 666.9 1886 667.3 1890 667.9 1894 668.7 1898 669.8 1902 671.1 1906 672.5 1910 674.1 1914 675.7 1918 677.2 1922 678.6 1926 679.8 1930 680.9 1934 681.7 1938 682.3 1942 682.4 1946 681.9 1950 680.8 1954 679.3 1958 677.5 1962 675.9 1966 674.6 1970 673.9 1974 673.6 1978 673.6 1982 673.9 1986 674.7 1990 675.9 1994 677.6 1998 679.7 2002 681.9 2006 683.9 2010 685.6 2014 686.7 2018 687.4 2022 687.7 2026 687.7 2030 687.7 2034 687.6 2038 687.7 2042 687.7 2046 687.8 2050 688" fill="none" stroke="#5ed2e2" stroke-width="1.15" stroke-linejoin="round" stroke-linecap="round"/>
<path d="M10 375 20 375 30 384 37 395 43 399.6 49 394 55 383 61 377 67 379 73 381 79 375 85 364 91 354 97 336 103 319 109 294 115 271 121 264 127.5 250.5 133 245 139 239 145 235.6 151 234 157 228 163 225.6 169 225.6 175 224 181 225 187 234 192.5 249.5 198 262 204 282 210 306 217 330 223 343 229 359 235 369 241 376 247 379 253 385 259 388 265 393 271 403 277 420 283 432 289 432 295 432 301 437 307 434 313 430 319 430 325 433 331 438 338 444 344 454 350 464 356 472 362 477 368 485 374 491 380 493 386 499 392 500 398 497 404 496 410 496 416 497 422 497 428 495 434 498 440 505 446 509 452 510 458 514 464 517 470 520 476 526 482 532 488 531 494 534 500 543 506 546 512 548 518 551 524 554 530 556 536 550 542 547 548 542 553.6 537 560 540 566 541 572 543 578 551 584 557 590 558 596 563 602 567 608 578 614 584 620 589 626 595 632 602 638 607 644 608 650 600 656 598 662 598 668 598 674 601 680 604 686 606 692 605 698 601 704 600 710 596 716 592 722 591 728 591 734 595 740 598 746 606 752 619 757 626.4 763 622 769 610 775 604.4 779 619 785 621 790 624 797 630 802 634 807 640 811 644.4 816 642 822 644 828 652.4 835 653.6 840 644 844 630 848 618 853 607 860 597 868 586 877 574 883 560 888 540 893 518 897 500 900 484 906 462 912 446 918 428 924 416 930 406 937 398 944 404 950 401 956 396 962 395 968 394 974 393 980 388 986 382 992 377 998 364 1004 350 1010 336 1016 319 1022 307 1028 295 1033 288 1040 288 1046 283 1051 281.6 1057 283.6 1063 283 1069 282 1075 285 1081 292 1087 301 1093 308 1099 320 1105 331 1111 334.4 1117 330 1123 323 1129 320 1135 310 1141 300 1147 292 1153 286 1159 282 1164 281.6 1170 292 1176 303 1182 311 1188 318 1194 328 1200 338 1207 341.6 1213 349 1219 355 1225 364 1231 366.4 1237 364 1243 366 1249 371 1255 376 1261 386 1267 396 1274 406 1280 410 1286 416 1292 422 1298 434 1304 452 1310 466 1316 477 1322 486 1328 497 1334 502.4 1340 503 1346 504 1352 503 1358 508 1362 517 1368 512 1374 511.6 1380 514 1387 519 1393 544 1399 560 1405 570 1411 579 1417 585 1423 599 1429 613 1435 627 1441 650 1447 675 1453 696 1459 707.6 1465 707.6 1471 709 1477 720 1483 730 1489 735 1495 747 1501 768 1507 793 1513 807 1519 817 1525 827 1531 833 1533 838 1539 852 1544 868 1549 880 1555 887 1561 895 1565 910 1571 926 1577 941 1583 956 1587 961 1591 963.6 1597 960 1603 955 1607 944 1612 924 1618 901 1624 880 1630 860 1636 842 1640.5 830 1646 810 1652 796 1658 785 1664 761 1670 744 1676 730 1681 724.4 1688 724.4 1694 724 1700 730 1706 731.6 1712 732 1718 731 1724 725 1730 714 1736 700 1742 686 1748 674 1754 663 1759 657.4 1765 660 1771 664 1777 672 1783 679 1789 683.6 1795 676 1801 671 1807 668 1813 662 1819 644 1825 631 1831 629 1837 627.4 1843 630 1849 636 1855 645 1861 654 1867 666 1873 679 1879 691 1885 702 1891 711 1897 719 1903 725 1909 731.6 1915 727 1921 726 1927 716 1933 702 1939 693 1945 693 1951 686 1957 673 1963 662 1969 658 1975 655 1981 655 1987 657 1993 662 1999 668 2005 672 2011 673 2017 673.6 2023 668 2029 666 2035 670 2041 671 2047 673 2051 674" fill="none" stroke="#4166f5" stroke-width="1.15" stroke-linejoin="round" stroke-linecap="round"/>
<path d="M11 379h5V397h-5zM13 370h1V416h-1zM23 372h5V383h-5zM25 357h1V397h-1zM29 386h5V436h-5zM31 364h1V445h-1zM35 434h5V435h-5zM37 408h1V439h-1zM59 337h5V347h-5zM61 325h1V372h-1zM65 356h5V385h-5zM67 351h1V397h-1zM71 387h5V393h-5zM73 356h1V401h-1zM119 178h5V237h-5zM121 166h1V249h-1zM131 189h5V223h-5zM133 178h1V233h-1zM143 211h5V220h-5zM145 175h1V230h-1zM149 216h5V225h-5zM151 185h1V233h-1zM161 205h5V215h-5zM163 166h1V224h-1zM167 214h5V228h-5zM169 206h1V246h-1zM179 210h5V226h-5zM181 185h1V236h-1zM185 228h5V275h-5zM187 224h1V296h-1zM191 275h5V327h-5zM193 270h1V341h-1zM197 324h5V333h-5zM199 320h1V368h-1zM203 333h5V386h-5zM205 314h1V391h-1zM209 385h5V423h-5zM211 366h1V423h-1zM215 410h5V420h-5zM217 397h1V465h-1zM227 384h5V436h-5zM229 359h1V454h-1zM251 393h5V412h-5zM253 378h1V433h-1zM263 398h5V421h-5zM265 390h1V431h-1zM269 420h5V449h-5zM271 391h1V449h-1zM275 447h5V496h-5zM277 428.5h1V502h-1zM293 432h5V438h-5zM295 396h1V442h-1zM299 438h5V453h-5zM301 419h1V459h-1zM317 391h5V437h-5zM319 370h1V446h-1zM323 432h5V463h-5zM325 429h1V479h-1zM335 456h5V465h-5zM337 430h1V489h-1zM341 463h5V499h-5zM343 452h1V519h-1zM347 501h5V504h-5zM349 482h1V529h-1zM353 503h5V520h-5zM355 474h1V525h-1zM365 495h5V520h-5zM367 476h1V521h-1zM371 517h5V525h-5zM373 498h1V540h-1zM383 502h5V530h-5zM385 486h1V539h-1zM401 487h5V501h-5zM403 469h1V528h-1zM413 481h5V512h-5zM415 471h1V513h-1zM431 483h5V524h-5zM433 480h1V524h-1zM437 525h5V534h-5zM439 517h1V550h-1zM455 504h5V552h-5zM457 504h1V568h-1zM467 524h5V531h-5zM469 484h1V538h-1zM473 533h5V556h-5zM475 520h1V558h-1zM479 552h5V557h-5zM481 544h1V566h-1zM491 529h5V549h-5zM493 522h1V553h-1zM497 547h5V581h-5zM499 542h1V589h-1zM515 550h5V575h-5zM517 541h1V575h-1zM527 558h5V571h-5zM529 556h1V587h-1zM539 523h5V560h-5zM541 516h1V560h-1zM551 508h5V509h-5zM553 495h1V516h-1zM557 511h5V554h-5zM559 508h1V558h-1zM569 539h5V555h-5zM571 535h1V561h-1zM575 557h5V585h-5zM577 553h1V591h-1zM581 584h5V591h-5zM583 572h1V614h-1zM593 561h5V596h-5zM595 551h1V602h-1zM605 576h5V627h-5zM607 572h1V634h-1zM623 600h5V618h-5zM625 596h1V626h-1zM629 618h5V642h-5zM631 615h1V652h-1zM653 573h5V599h-5zM655 567h1V600h-1zM665 571h5V618h-5zM667 568h1V618h-1zM677 608h5V618h-5zM679 593h1V618h-1zM683 618h5V619h-5zM685 613h1V628h-1zM701 584h5V600h-5zM703 569h1V602h-1zM713 568h5V575h-5zM715 549h1V584h-1zM719 571h5V587h-5zM721 559h1V596h-1zM725 587h5V596h-5zM727 569h1V596h-1zM731 594h5V616h-5zM733 586h1V616h-1zM743 593h5V641h-5zM745 593h1V641h-1zM749 640h5V676h-5zM751 636h1V676h-1zM773 513h5V591h-5zM775 469h1V603h-1zM779 602h5V717h-5zM781 549h1V735h-1zM791 586h5V684h-5zM793 578h1V693h-1zM803 638h5V664h-5zM805 625h1V681h-1zM809 665h5V679h-5zM811 654h1V707h-1zM821 633h5V675h-5zM823 631h1V695h-1zM827 676h5V680h-5zM829 655h1V692h-1zM851 532h5V545h-5zM853 492h1V557h-1zM857 550h5V570h-5zM859 513h1V570h-1zM911 363h5V378h-5zM913 324h1V389h-1zM923 344h5V365h-5zM925 310h1V381h-1zM929 361h5V362h-5zM931 339h1V390h-1zM941 362h5V428.6h-5zM943 353h1V433h-1zM959 372h5V403h-5zM961 367h1V409h-1zM971 359h5V423.6h-5zM973 357h1V423.6h-1zM983 347h5V365h-5zM985 338h1V392h-1zM1007 273h5V280h-5zM1009 262h1V295h-1zM1019 245h5V259h-5zM1021 233h1V273h-1zM1031 239h5V246h-5zM1033 205h1V253h-1zM1037 246h5V291h-5zM1039 243h1V291h-1zM1049 261h5V273h-5zM1051 256h1V295h-1zM1055 273h5V299h-5zM1057 271h1V328h-1zM1067 275h5V279h-5zM1069 261h1V306h-1zM1073 278h5V292h-5zM1075 238h1V294h-1zM1079 291h5V343h-5zM1081 278h1V346h-1zM1091 330h5V345h-5zM1093 317h1V352h-1zM1097 353h5V378h-5zM1099 330h1V387h-1zM1103 378h5V388h-5zM1105 377h1V405h-1zM1127 285h5V309h-5zM1129 267h1V309h-1zM1139 263h5V269h-5zM1141 257h1V297h-1zM1157 251h5V263h-5zM1159 234h1V281h-1zM1163 263h5V281h-5zM1165 246h1V284h-1zM1169 280h5V357h-5zM1171 267h1V360h-1zM1181 334h5V356h-5zM1183 330h1V373h-1zM1193 353h5V376h-5zM1195 350h1V384h-1zM1199 373h5V386h-5zM1201 366h1V390h-1zM1211 354h5V389h-5zM1213 344h1V389h-1zM1223 377h5V407h-5zM1225 375h1V417h-1zM1241 351h5V373h-5zM1243 348h1V374h-1zM1247 371h5V399h-5zM1249 361h1V399h-1zM1253 397h5V401h-5zM1255 389h1V411h-1zM1259 398h5V440h-5zM1261 398h1V448h-1zM1265 439h5V447h-5zM1267 424h1V459h-1zM1283 425h5V450h-5zM1285 408h1V457h-1zM1295 450h5V486h-5zM1297 434h1V489h-1zM1301 484h5V537h-5zM1303 479h1V545h-1zM1325 527h5V550h-5zM1327 511h1V554h-1zM1343 504h5V512h-5zM1345 503h1V538h-1zM1355 495h5V517h-5zM1357 488h1V529h-1zM1361 517h5V578h-5zM1363 514h1V585h-1zM1373 479h5V517h-5zM1375 469h1V521h-1zM1379 518h5V525h-5zM1381 500h1V536h-1zM1385 525h5V540h-5zM1387 502h1V590h-1zM1391 586h5V645h-5zM1393 546h1V658h-1zM1397 647h5V651h-5zM1399 585h1V683h-1zM1409 605h5V629h-5zM1411 601h1V635h-1zM1421 613h5V662h-5zM1423 606h1V673h-1zM1427 647h5V683h-5zM1429 643h1V698h-1zM1433 683h5V687h-5zM1435 642h1V697h-1zM1439 683h5V766h-5zM1441 680h1V786h-1zM1451 764h5V806h-5zM1453 749h1V824h-1zM1469 705h5V711h-5zM1471 689h1V738h-1zM1475 710h5V773h-5zM1477 693h1V776h-1zM1481 773h5V780h-5zM1483 746h1V821h-1zM1493 761h5V801h-5zM1495 742h1V819h-1zM1499 803h5V876h-5zM1501 789h1V910h-1zM1505 878h5V906h-5zM1507 875h1V947h-1zM1523 862h5V877h-5zM1525 841h1V894h-1zM1535 853h5V921h-5zM1537 845h1V922h-1zM1541 922h5V944h-5zM1543 904h1V963h-1zM1547 943h5V948h-5zM1549 908h1V960h-1zM1559 900h5V929h-5zM1561 871h1V949h-1zM1565 928h5V1030h-5zM1567 916h1V1035h-1zM1577 999h5V1014h-5zM1579 932h1V1017h-1zM1583 1014h5V1020h-5zM1585 991h1V1046h-1zM1613 829h5V833h-5zM1615 783h1V848h-1zM1655 716h5V735h-5zM1657 716h1V784h-1zM1673 664h5V665h-5zM1675 644h1V674h-1zM1679 665h5V688h-5zM1681 612h1V688h-1zM1685 691h5V725h-5zM1687 685h1V726h-1zM1697 720h5V764h-5zM1699 714h1V766h-1zM1715 721h5V728h-5zM1717 697h1V772h-1zM1745 626h5V627h-5zM1747 623h1V651h-1zM1757 615h5V618h-5zM1759 594h1V641h-1zM1763 615h5V670h-5zM1765 606h1V670h-1zM1769 666h5V684h-5zM1771 652h1V697h-1zM1775 683h5V709h-5zM1777 675h1V715h-1zM1781 710h5V714h-5zM1783 691h1V736h-1zM1799 641h5V657h-5zM1801 619h1V671h-1zM1823 551h5V585h-5zM1825 537h1V589h-1zM1829 581h5V620h-5zM1831 576h1V640h-1zM1835 617h5V621h-5zM1837 608h1V650h-1zM1841 620h5V641h-5zM1843 602h1V645h-1zM1847 638h5V664h-5zM1849 636h1V671h-1zM1853 664h5V687h-5zM1855 644h1V695h-1zM1859 686h5V694h-5zM1861 639h1V694h-1zM1865 692h5V717h-5zM1867 682h1V720h-1zM1871 711h5V729h-5zM1873 694h1V737h-1zM1877 728h5V733h-5zM1879 704h1V742h-1zM1883 732h5V755h-5zM1885 729h1V781h-1zM1895 762h5V776h-5zM1897 734h1V779h-1zM1907 748h5V760h-5zM1909 717h1V771h-1zM1919 709h5V721h-5zM1921 698h1V729h-1zM1937 640h5V661h-5zM1939 617h1V675h-1zM1943 661h5V698h-5zM1945 655h1V708h-1zM1967 611h5V642h-5zM1969 611h1V661h-1zM1979 638h5V655h-5zM1981 633h1V671h-1zM1985 657h5V669h-5zM1987 644h1V681h-1zM1991 672h5V690h-5zM1993 654h1V691h-1zM2003 691h5V693h-5zM2005 684h1V717h-1zM2027 640h5V658h-5zM2029 634h1V662h-1zM2033 657h5V683h-5zM2035 640h1V684h-1zM2039 682h5V689h-5zM2041 665h1V694h-1zM2051 674h5V735h-5zM2053 658h1V739.6h-1z" fill="#f23645"/>
<path d="M17 370h5V398h-5zM19 350h1V399.6h-1zM41 418h5V433.6h-5zM43 413h1V451h-1zM47 379h5V421h-5zM49 356h1V425h-1zM53 335h5V381h-5zM55 330h1V402h-1zM77 357h5V394h-5zM79 344h1V395h-1zM83 312h5V358h-5zM85 305h1V361h-1zM89 305h5V313h-5zM91 286h1V315h-1zM95 250h5V306h-5zM97 245h1V339h-1zM101 247h5V255h-5zM103 213h1V262h-1zM107 180h5V231h-5zM109 147h1V247h-1zM113 172h5V183h-5zM115 151h1V209h-1zM125 186h5V237h-5zM127 141h1V240h-1zM137 215h5V223h-5zM139 203h1V265h-1zM155 204h5V227h-5zM157 193h1V239h-1zM173 211h5V226h-5zM175 190h1V233h-1zM221 385h5V420h-5zM223 363h1V421h-1zM233 420h5V442h-5zM235 414h1V465h-1zM239 412h5V419h-5zM241 400h1V459h-1zM245 393h5V415h-5zM247 385h1V440h-1zM257 400h5V410h-5zM259 392h1V445h-1zM281 488h5V509h-5zM283 485h1V529h-1zM287 431h5V488h-5zM289 425h1V501h-1zM305 430h5V454h-5zM307 399h1V460h-1zM311 392h5V431h-5zM313 374h1V431h-1zM329 450h5V462h-5zM331 434h1V489h-1zM359 494h5V525h-5zM361 493h1V556h-1zM377 501h5V515h-5zM379 491h1V526h-1zM389 508h5V531h-5zM391 472h1V531h-1zM395 486h5V510h-5zM397 476h1V517h-1zM407 478h5V501h-5zM409 446h1V501h-1zM419 497h5V512h-5zM421 493h1V533h-1zM425 482h5V500h-5zM427 463h1V502h-1zM443 520h5V533h-5zM445 508h1V537h-1zM449 510h5V520h-5zM451 493h1V521h-1zM461 522h5V552h-5zM463 516h1V554h-1zM485 530h5V557h-5zM487 522h1V557h-1zM503 560h5V579h-5zM505 541h1V581h-1zM509 551h5V569h-5zM511 544h1V571h-1zM521 559h5V574h-5zM523 557h1V589h-1zM533 520h5V572h-5zM535 515h1V573h-1zM545 508h5V559h-5zM547 506h1V566h-1zM563 539h5V554h-5zM565 534h1V563h-1zM587 561h5V591h-5zM589 545h1V591h-1zM599 580h5V595h-5zM601 575h1V607h-1zM611 615h5V627h-5zM613 596h1V646h-1zM617 600h5V616h-5zM619 588h1V645h-1zM635 630h5V642h-5zM637 623h1V660h-1zM641 612h5V630h-5zM643 603h1V641h-1zM647 570h5V614h-5zM649 569h1V625h-1zM659 572h5V599h-5zM661 568h1V600h-1zM671 607h5V617h-5zM673 605h1V626h-1zM689 604h5V616h-5zM691 587h1V622h-1zM695 586h5V606h-5zM697 561h1V606h-1zM707 569h5V599h-5zM709 564h1V601h-1zM737 593h5V614h-5zM739 593h1V625h-1zM755 670h5V673h-5zM757 665h1V691h-1zM761 615h5V681h-5zM763 606h1V683h-1zM767 534h5V610h-5zM769 513h1V611h-1zM785 582h5V714h-5zM787 577h1V735h-1zM797 644h5V682h-5zM799 637h1V694h-1zM815 629h5V679h-5zM817 617h1V682h-1zM833 654h5V683h-5zM835 620h1V685h-1zM839 591h5V656h-5zM841 578h1V663h-1zM845 533h5V588h-5zM847 504h1V591h-1zM863 556h5V567h-5zM865 515h1V570h-1zM869 547h5V557h-5zM871 529h1V565h-1zM875 531h5V549h-5zM877 508h1V549h-1zM881 491h5V530h-5zM883 483h1V530h-1zM887 420h5V495h-5zM889 419h1V498h-1zM893 383h5V425h-5zM895 341h1V425h-1zM899 380h5V385h-5zM901 339h1V407h-1zM905 362h5V380h-5zM907 355h1V402h-1zM917 343h5V379h-5zM919 338h1V387h-1zM935 363.4h5V366h-5zM937 344h1V394h-1zM947 402h5V431h-5zM949 384h1V432h-1zM953 366h5V403h-5zM955 365h1V404h-1zM965 357h5V402h-5zM967 350h1V405h-1zM977 352h5V422.6h-5zM979 347h1V436h-1zM989 358h5V363h-5zM991 346h1V371h-1zM995 325h5V360h-5zM997 324h1V375h-1zM1001 276h5V326h-5zM1003 258h1V337h-1zM1013 235h5V272h-5zM1015 229h1V277h-1zM1025 246h5V259h-5zM1027 217h1V259h-1zM1043 260h5V289h-5zM1045 254h1V297h-1zM1061 276h5V303h-5zM1063 267h1V307h-1zM1085 329h5V340h-5zM1087 316h1V364h-1zM1109 345h5V390h-5zM1111 336h1V394h-1zM1115 319h5V348h-5zM1117 315h1V353h-1zM1121 283h5V323h-5zM1123 282h1V331h-1zM1133 263h5V304h-5zM1135 260h1V317h-1zM1145 257h5V270h-5zM1147 237h1V274h-1zM1151 254h5V260h-5zM1153 231h1V272h-1zM1175 333h5V359h-5zM1177 321h1V360h-1zM1187 351h5V356h-5zM1189 346h1V381h-1zM1205 354h5V385h-5zM1207 341h1V386h-1zM1217 377h5V389h-5zM1219 373h1V404h-1zM1229 376h5V407h-5zM1231 374h1V409h-1zM1235 351h5V378h-5zM1237 341h1V380h-1zM1271 438h5V447h-5zM1273 429h1V460h-1zM1277 423h5V441h-5zM1279 415h1V446h-1zM1289 447h5V451h-5zM1291 432h1V464h-1zM1307 528h5V535h-5zM1309 520h1V565h-1zM1313 528h5V531h-5zM1315 504h1V550h-1zM1319 525h5V530h-5zM1321 513h1V552h-1zM1331 526h5V550h-5zM1333 516h1V550h-1zM1337 504h5V527h-5zM1339 502h1V538h-1zM1349 494h5V515h-5zM1351 473h1V534h-1zM1367 483h5V580h-5zM1369 473h1V580h-1zM1403 607h5V649h-5zM1405 580h1V653h-1zM1415 608h5V628h-5zM1417 565h1V640h-1zM1445 763h5V766h-5zM1447 733h1V783h-1zM1457 759h5V809h-5zM1459 744h1V812h-1zM1463 705h5V759.4h-5zM1465 695h1V760h-1zM1487 760h5V787h-5zM1489 745h1V787h-1zM1511 866h5V908h-5zM1513 846h1V908h-1zM1517 862h5V868h-5zM1519 852h1V902h-1zM1529 853h5V879h-5zM1531 818h1V883h-1zM1553 919h5V958h-5zM1555 897h1V974h-1zM1571 994h5V1036h-5zM1573 977h1V1076h-1zM1589 976h5V1018h-5zM1591 971h1V1023h-1zM1595 943h5V973h-5zM1597 903h1V992h-1zM1601 945h5V950h-5zM1603 940h1V1016h-1zM1607 823h5V963h-5zM1609 819h1V963h-1zM1619 813h5V833h-5zM1621 793h1V863h-1zM1625 765h5V818h-5zM1627 763h1V842h-1zM1631 767h5V770h-5zM1633 748h1V795h-1zM1637 751h5V770h-5zM1639 704h1V776h-1zM1643 742h5V751h-5zM1645 728h1V755h-1zM1649 716h5V743h-5zM1651 711h1V748h-1zM1661 675h5V735h-5zM1663 663h1V735h-1zM1667 668h5V676h-5zM1669 657h1V695h-1zM1691 717h5V723h-5zM1693 683h1V742h-1zM1703 736h5V765h-5zM1705 718h1V767h-1zM1709 734h5V740h-5zM1711 715h1V770h-1zM1721 697h5V721h-5zM1723 644h1V737h-1zM1727 671h5V694h-5zM1729 645h1V702h-1zM1733 654h5V673h-5zM1735 631h1V688h-1zM1739 625h5V655h-5zM1741 599h1V675h-1zM1751 617h5V626h-5zM1753 593h1V634h-1zM1787 701h5V713h-5zM1789 688h1V726h-1zM1793 641h5V702h-5zM1795 632h1V705h-1zM1805 651h5V653h-5zM1807 630h1V674h-1zM1811 632h5V651h-5zM1813 631h1V674h-1zM1817 553h5V633h-5zM1819 547h1V640h-1zM1889 751h5V758h-5zM1891 746h1V793h-1zM1901 749h5V774h-5zM1903 741h1V775h-1zM1913 707h5V759h-5zM1915 701h1V772h-1zM1925 651h5V722h-5zM1927 649h1V726h-1zM1931 643h5V652h-5zM1933 633h1V668h-1zM1949 655h5V698h-5zM1951 620h1V703h-1zM1955 618h5V656h-5zM1957 610h1V656h-1zM1961 611h5V618h-5zM1963 579h1V621h-1zM1973 639h5V641h-5zM1975 623h1V650h-1zM1997 690h5V691h-5zM1999 686h1V708h-1zM2009 679h5V694h-5zM2011 657h1V696h-1zM2015 673h5V676h-5zM2017 664h1V686h-1zM2021 643h5V675h-5zM2023 628h1V675h-1zM2045 673h5V690h-5zM2047 661h1V708h-1z" fill="#089981"/>
</g>
<g fill="#ff2600" filter="url(#sh)">
<path d="M1150.1 374.6 1537.7 1052.1 1529.5 1055.6 1552 1070.4 1550.7 1043.5 1543.4 1048.8 1155.9 371.4z"/>
<path d="M1591.4 1072.3 1829.8 748.3 1836.6 754.6 1841 728 1816.9 740.1 1825 744.7 1586.6 1068.7z"/>
<path d="M1945.6 471.6 2034 606.4 2025.6 610.6 2049 624 2046 597.2 2038.8 603.2 1950.4 468.4z"/>
</g>
<text x="1683.6" y="442" font-size="22.3" font-weight="bold" fill="#ff2600" textLength="322" lengthAdjust="spacingAndGlyphs">“We are not Fed-dependent”</text>
<g transform="translate(2053.6 1105.5)"><circle r="9.6" fill="#fff" stroke="#9c27b0" stroke-width="1.5"/><circle cx="7.1" cy="-7.1" r="3.8" fill="#fff"/><circle cx="7.1" cy="-7.1" r="2.4" fill="#f23645"/><path d="M2.6-4.4L-3.4 .35 3.1-.25-3.2 4.7" fill="none" stroke="#9c27b0" stroke-width="1.3" stroke-linejoin="round"/></g>
<g transform="translate(2059.3 1129.8)"><circle r="10" fill="#fff" stroke="#f23645" stroke-width="1.45"/><circle r="8" fill="#1a5fc4"/><circle cx="0" cy="-5" r="0.85" fill="#ffd429"/><circle cx="3.5" cy="-3.5" r="0.85" fill="#ffd429"/><circle cx="5" cy="-0" r="0.85" fill="#ffd429"/><circle cx="3.5" cy="3.5" r="0.85" fill="#ffd429"/><circle cx="0" cy="5" r="0.85" fill="#ffd429"/><circle cx="-3.5" cy="3.5" r="0.85" fill="#ffd429"/><circle cx="-5" cy="0" r="0.85" fill="#ffd429"/><circle cx="-3.5" cy="-3.5" r="0.85" fill="#ffd429"/></g>
<g transform="translate(2053.3 1129.8)"><circle r="10" fill="#fff" stroke="#f23645" stroke-width="1.45"/><circle r="8" fill="#1a5fc4"/><circle cx="0" cy="-5" r="0.85" fill="#ffd429"/><circle cx="3.5" cy="-3.5" r="0.85" fill="#ffd429"/><circle cx="5" cy="-0" r="0.85" fill="#ffd429"/><circle cx="3.5" cy="3.5" r="0.85" fill="#ffd429"/><circle cx="0" cy="5" r="0.85" fill="#ffd429"/><circle cx="-3.5" cy="3.5" r="0.85" fill="#ffd429"/><circle cx="-5" cy="0" r="0.85" fill="#ffd429"/><circle cx="-3.5" cy="-3.5" r="0.85" fill="#ffd429"/></g>
<g transform="translate(2059.3 1155)"><circle r="10" fill="#fff" stroke="#f23645" stroke-width="1.45"/><g clip-path="url(#c1)"><rect x="-9" y="-9" width="18" height="18" fill="#fff"/><rect x="-9" y="-7.7" width="18" height="2.8" fill="#ef5350"/><rect x="-9" y="-2.0" width="18" height="4.0" fill="#ef5350"/><rect x="-9" y="4.7" width="18" height="3.2" fill="#ef5350"/><rect x="-9" y="-9" width="10.4" height="11" fill="#3d8ef0"/><rect x="-6.6" y="-6.6" width="1.3" height="1.3" fill="#e3eefc"/><rect x="-4.0" y="-6.6" width="1.3" height="1.3" fill="#e3eefc"/><rect x="-1.4" y="-6.6" width="1.3" height="1.3" fill="#e3eefc"/><rect x="-6.6" y="-4.2" width="1.3" height="1.3" fill="#e3eefc"/><rect x="-4.0" y="-4.2" width="1.3" height="1.3" fill="#e3eefc"/><rect x="-1.4" y="-4.2" width="1.3" height="1.3" fill="#e3eefc"/><rect x="-6.6" y="-1.8" width="1.3" height="1.3" fill="#e3eefc"/><rect x="-4.0" y="-1.8" width="1.3" height="1.3" fill="#e3eefc"/><rect x="-1.4" y="-1.8" width="1.3" height="1.3" fill="#e3eefc"/></g></g>
<g transform="translate(2053.3 1155)"><circle r="10" fill="#fff" stroke="#f23645" stroke-width="1.45"/><g clip-path="url(#c1)"><rect x="-9" y="-9" width="18" height="18" fill="#fff"/><rect x="-9" y="-7.7" width="18" height="2.8" fill="#ef5350"/><rect x="-9" y="-2.0" width="18" height="4.0" fill="#ef5350"/><rect x="-9" y="4.7" width="18" height="3.2" fill="#ef5350"/><rect x="-9" y="-9" width="10.4" height="11" fill="#3d8ef0"/><rect x="-6.6" y="-6.6" width="1.3" height="1.3" fill="#e3eefc"/><rect x="-4.0" y="-6.6" width="1.3" height="1.3" fill="#e3eefc"/><rect x="-1.4" y="-6.6" width="1.3" height="1.3" fill="#e3eefc"/><rect x="-6.6" y="-4.2" width="1.3" height="1.3" fill="#e3eefc"/><rect x="-4.0" y="-4.2" width="1.3" height="1.3" fill="#e3eefc"/><rect x="-1.4" y="-4.2" width="1.3" height="1.3" fill="#e3eefc"/><rect x="-6.6" y="-1.8" width="1.3" height="1.3" fill="#e3eefc"/><rect x="-4.0" y="-1.8" width="1.3" height="1.3" fill="#e3eefc"/><rect x="-1.4" y="-1.8" width="1.3" height="1.3" fill="#e3eefc"/></g></g>
<g font-size="12" fill="#131722">
<text x="2113.2" y="70.3" textLength="47" lengthAdjust="spacingAndGlyphs">1.28000</text>
<text x="2113.2" y="101.2" textLength="47" lengthAdjust="spacingAndGlyphs">1.27000</text>
<text x="2113.2" y="132.2" textLength="47" lengthAdjust="spacingAndGlyphs">1.26000</text>
<text x="2113.2" y="163.1" textLength="47" lengthAdjust="spacingAndGlyphs">1.25000</text>
<text x="2113.2" y="194" textLength="47" lengthAdjust="spacingAndGlyphs">1.24000</text>
<text x="2113.2" y="225" textLength="47" lengthAdjust="spacingAndGlyphs">1.23000</text>
<text x="2113.2" y="255.9" textLength="47" lengthAdjust="spacingAndGlyphs">1.22000</text>
<text x="2113.2" y="286.8" textLength="47" lengthAdjust="spacingAndGlyphs">1.21000</text>
<text x="2113.2" y="317.7" textLength="47" lengthAdjust="spacingAndGlyphs">1.20000</text>
<text x="2113.2" y="348.7" textLength="47" lengthAdjust="spacingAndGlyphs">1.19000</text>
<text x="2113.2" y="379.6" textLength="47" lengthAdjust="spacingAndGlyphs">1.18000</text>
<text x="2113.2" y="410.5" textLength="47" lengthAdjust="spacingAndGlyphs">1.17000</text>
<text x="2113.2" y="441.5" textLength="47" lengthAdjust="spacingAndGlyphs">1.16000</text>
<text x="2113.2" y="472.4" textLength="47" lengthAdjust="spacingAndGlyphs">1.15000</text>
<text x="2113.2" y="503.3" textLength="47" lengthAdjust="spacingAndGlyphs">1.14000</text>
<text x="2113.2" y="534.2" textLength="47" lengthAdjust="spacingAndGlyphs">1.13000</text>
<text x="2113.2" y="565.2" textLength="47" lengthAdjust="spacingAndGlyphs">1.12000</text>
<text x="2113.2" y="596.1" textLength="47" lengthAdjust="spacingAndGlyphs">1.11000</text>
<text x="2113.2" y="627" textLength="47" lengthAdjust="spacingAndGlyphs">1.10000</text>
<text x="2113.2" y="658" textLength="47" lengthAdjust="spacingAndGlyphs">1.09000</text>
<text x="2113.2" y="688.9" textLength="47" lengthAdjust="spacingAndGlyphs">1.08000</text>
<text x="2113.2" y="719.8" textLength="47" lengthAdjust="spacingAndGlyphs">1.07000</text>
<text x="2113.2" y="750.8" textLength="47" lengthAdjust="spacingAndGlyphs">1.06000</text>
<text x="2113.2" y="781.7" textLength="47" lengthAdjust="spacingAndGlyphs">1.05000</text>
<text x="2113.2" y="812.6" textLength="47" lengthAdjust="spacingAndGlyphs">1.04000</text>
<text x="2113.2" y="843.5" textLength="47" lengthAdjust="spacingAndGlyphs">1.03000</text>
<text x="2113.2" y="874.5" textLength="47" lengthAdjust="spacingAndGlyphs">1.02000</text>
<text x="2113.2" y="905.4" textLength="47" lengthAdjust="spacingAndGlyphs">1.01000</text>
<text x="2113.2" y="936.3" textLength="47" lengthAdjust="spacingAndGlyphs">1.00000</text>
<text x="2113.2" y="967.3" textLength="47" lengthAdjust="spacingAndGlyphs">0.99000</text>
<text x="2113.2" y="998.2" textLength="47" lengthAdjust="spacingAndGlyphs">0.98000</text>
<text x="2113.2" y="1029.1" textLength="47" lengthAdjust="spacingAndGlyphs">0.97000</text>
<text x="2113.2" y="1060.1" textLength="47" lengthAdjust="spacingAndGlyphs">0.96000</text>
<text x="2113.2" y="1091" textLength="47" lengthAdjust="spacingAndGlyphs">0.95000</text>
<text x="2113.2" y="1121.9" textLength="47" lengthAdjust="spacingAndGlyphs">0.94000</text>
<text x="2113.2" y="1152.9" textLength="47" lengthAdjust="spacingAndGlyphs">0.93000</text>
</g>
<path d="M2104 726h59.8a2 2 0 0 1 2 2v13a2 2 0 0 1-2 2H2104z" fill="#f23645"/>
<text x="2113.2" y="739" font-size="12" fill="#fff" textLength="47" lengthAdjust="spacingAndGlyphs">1.06384</text>
<rect x="2108" y="30.7" width="58" height="26.2" rx="4.5" fill="#fff" stroke="#e6e9f0" stroke-width="1.2"/>
<text x="2117.6" y="48.1" font-size="12.5" fill="#131722" textLength="24.5" lengthAdjust="spacingAndGlyphs">USD</text>
<g font-size="12" fill="#131722" text-anchor="middle">
<text x="91.3" y="1186.8" font-weight="bold" textLength="31" lengthAdjust="spacingAndGlyphs">2018</text>
<text x="198.9" y="1186.8" textLength="22.8" lengthAdjust="spacingAndGlyphs">May</text>
<text x="300.9" y="1186.8" textLength="21.6" lengthAdjust="spacingAndGlyphs">Sep</text>
<text x="409.3" y="1186.8" font-weight="bold" textLength="31" lengthAdjust="spacingAndGlyphs">2019</text>
<text x="510.9" y="1186.8" textLength="22.8" lengthAdjust="spacingAndGlyphs">May</text>
<text x="612.9" y="1186.8" textLength="21.6" lengthAdjust="spacingAndGlyphs">Sep</text>
<text x="721.3" y="1186.8" font-weight="bold" textLength="31" lengthAdjust="spacingAndGlyphs">2020</text>
<text x="822.9" y="1186.8" textLength="22.8" lengthAdjust="spacingAndGlyphs">May</text>
<text x="930.9" y="1186.8" textLength="21.6" lengthAdjust="spacingAndGlyphs">Sep</text>
<text x="1033.3" y="1186.8" font-weight="bold" textLength="31" lengthAdjust="spacingAndGlyphs">2021</text>
<text x="1134.9" y="1186.8" textLength="22.8" lengthAdjust="spacingAndGlyphs">May</text>
<text x="1242.9" y="1186.8" textLength="21.6" lengthAdjust="spacingAndGlyphs">Sep</text>
<text x="1345.3" y="1186.8" font-weight="bold" textLength="31" lengthAdjust="spacingAndGlyphs">2022</text>
<text x="1446.9" y="1186.8" textLength="22.8" lengthAdjust="spacingAndGlyphs">May</text>
<text x="1554.9" y="1186.8" textLength="21.6" lengthAdjust="spacingAndGlyphs">Sep</text>
<text x="1657.3" y="1186.8" font-weight="bold" textLength="31" lengthAdjust="spacingAndGlyphs">2023</text>
<text x="1758.9" y="1186.8" textLength="22.8" lengthAdjust="spacingAndGlyphs">May</text>
<text x="1842.9" y="1186.8" textLength="22.5" lengthAdjust="spacingAndGlyphs">Aug</text>
<text x="1969.3" y="1186.8" font-weight="bold" textLength="31" lengthAdjust="spacingAndGlyphs">2024</text>
<text x="2076.9" y="1186.8" textLength="22.8" lengthAdjust="spacingAndGlyphs">May</text>
</g>
<text x="10.8" y="19.6" font-size="12.4" fill="#131722" textLength="435.3" lengthAdjust="spacingAndGlyphs">philoinvestor3000 published on TradingView.com, Apr 13, 2024 00:15 UTC+3</text>
<text x="18.4" y="47" font-size="12.3" fill="#131722" textLength="157.9" lengthAdjust="spacingAndGlyphs">Euro / U.S. Dollar, 1W, FXCM</text>
<text x="183.8" y="47" font-size="12.3" fill="#131722" textLength="9" lengthAdjust="spacingAndGlyphs">O</text>
<text x="193.5" y="47" font-size="12.3" fill="#f23645" textLength="45.2" lengthAdjust="spacingAndGlyphs">1.08343</text>
<text x="246.8" y="47" font-size="12.3" fill="#131722" textLength="8.2" lengthAdjust="spacingAndGlyphs">H</text>
<text x="256" y="47" font-size="12.3" fill="#f23645" textLength="44.5" lengthAdjust="spacingAndGlyphs">1.08850</text>
<text x="308.8" y="47" font-size="12.3" fill="#131722" textLength="5.8" lengthAdjust="spacingAndGlyphs">L</text>
<text x="315.2" y="47" font-size="12.3" fill="#f23645" textLength="44.8" lengthAdjust="spacingAndGlyphs">1.06224</text>
<text x="367.8" y="47" font-size="12.3" fill="#131722" textLength="7.6" lengthAdjust="spacingAndGlyphs">C</text>
<text x="376" y="47" font-size="12.3" fill="#f23645" textLength="45.3" lengthAdjust="spacingAndGlyphs">1.06384</text>
<text x="429.4" y="47" font-size="12.3" fill="#f23645" textLength="105.9" lengthAdjust="spacingAndGlyphs">−0.01976 (−1.82%)</text>
<text x="542.7" y="47" font-size="12.3" fill="#131722" textLength="17.9" lengthAdjust="spacingAndGlyphs">Vol</text>
<text x="560.9" y="47" font-size="12.3" fill="#f23645" textLength="54.7" lengthAdjust="spacingAndGlyphs">901.563 K</text>
<g transform="translate(9.9 1205.75) scale(0.545)" fill="#131722"><path d="M14 22H7V11H0V4h14z"/><circle cx="20" cy="8" r="4"/><path d="M28 22h-8l7.5-18h8z"/></g>
<text x="33.6" y="1219" font-size="13.6" fill="#131722" textLength="73.6" lengthAdjust="spacingAndGlyphs">TradingView</text>
</svg>
</body></html>
